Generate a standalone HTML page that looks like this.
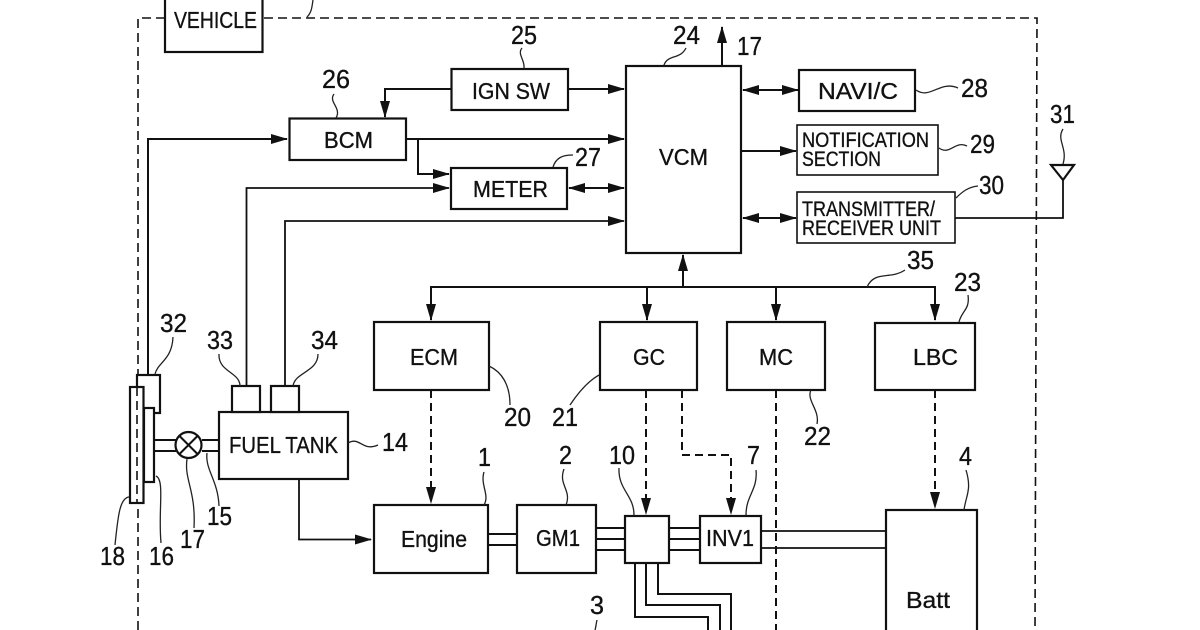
<!DOCTYPE html>
<html><head><meta charset="utf-8"><style>
html,body{margin:0;padding:0;background:#fff;width:1200px;height:630px;overflow:hidden}
svg{display:block}
text{font-family:"Liberation Sans",sans-serif;fill:#111;stroke:#111;stroke-width:.35}
.n{font-size:26px}
.b{font-size:23.500px}
.s{font-size:21px}
.l{fill:none;stroke:#111;stroke-width:2}
.t{fill:none;stroke:#222;stroke-width:1.3}
.d{fill:none;stroke:#111;stroke-width:1.6;stroke-dasharray:9 5}
.a{fill:none;stroke:#111;stroke-width:2;stroke-dasharray:8 5}
.w{fill:#fff;stroke:#111;stroke-width:2.2}
</style></head><body>
<svg width="1200" height="630" viewBox="0 0 1200 630" xmlns="http://www.w3.org/2000/svg">
<defs>
<marker id="h" markerWidth="17" markerHeight="10" refX="16" refY="5" orient="auto-start-reverse" markerUnits="userSpaceOnUse"><path d="M0 0L17 5L0 10Z" fill="#111"/></marker>
</defs>
<!-- outer dashed boundary -->
<path class="d" d="M165 18H138V630"/>
<path class="d" d="M264 18H1037L1035 630"/>
<path class="t" d="M307 17C312 12 312 6 313 0"/>
<!-- connectors -->
<g class="l">
<path d="M451 89H385V117" marker-end="url(#h)"/>
<path d="M568 89H624" marker-end="url(#h)"/>
<path d="M148 375V139H287" marker-end="url(#h)"/>
<path d="M406 139H624" marker-end="url(#h)"/>
<path d="M418 139V174H449" marker-end="url(#h)"/>
<path d="M246.500 386V188H449" stroke-width="1.800" marker-end="url(#h)"/>
<path d="M285 386V221H624" stroke-width="1.800" marker-end="url(#h)"/>
<path d="M569 188H624" marker-start="url(#h)" marker-end="url(#h)"/>
<path d="M722 66V27" marker-end="url(#h)"/>
<path d="M743 90H798" marker-start="url(#h)" marker-end="url(#h)"/>
<path d="M741 151H796" marker-end="url(#h)"/>
<path d="M743 218H796" marker-start="url(#h)" marker-end="url(#h)"/>
<path d="M955 218H1063V180" stroke-width="1.800"/>
<path d="M683 287V255" marker-end="url(#h)"/>
<path d="M431 320V287H935V320" marker-start="url(#h)" marker-end="url(#h)"/>
<path d="M647 287V320" marker-end="url(#h)"/>
<path d="M776 287V320" marker-end="url(#h)"/>
<path d="M299 479V539.500H371" stroke-width="1.800" marker-end="url(#h)"/>
<path d="M635 563V617H708V630"/>
<path d="M646 563V605H720V630"/>
<path d="M658 563V594H731V630"/>
<path d="M488 534H517M488 545H517"/>
<path d="M596 528H625M596 539H625M596 550H625"/>
<path d="M669 528H700M669 539H700M669 550H700"/>
<path d="M761 531H886M761 548H886" stroke-width="1.800"/>
<path d="M154 440H176M154 451H176M202 440H219M202 451H219"/>
</g>
<!-- dashed control lines -->
<path class="a" d="M431 390V490"/><path d="M426 487L431 504L436 487Z" fill="#111"/>
<path class="a" d="M646 390V500"/><path d="M641 498L646 515L651 498Z" fill="#111"/>
<path class="a" d="M682 390V455H731V500"/><path d="M726 498L731 515L736 498Z" fill="#111"/>
<path class="a" d="M935 390V495"/><path d="M930 492L935 509L940 492Z" fill="#111"/>
<path class="a" d="M776 390V630"/>
<!-- boxes -->
<g class="w">
<rect x="165" y="-10" width="97.500" height="62"/>
<rect x="451.500" y="69" width="116.500" height="41"/>
<rect x="289.500" y="118.500" width="116.500" height="41.500"/>
<rect x="451" y="168" width="116" height="41"/>
<rect x="626" y="66" width="115" height="187"/>
<rect x="799" y="70" width="116" height="41"/>
<rect x="797" y="125" width="141" height="50" stroke-width="1.600"/>
<rect x="797" y="192" width="158" height="51" stroke-width="1.600"/>
<rect x="374" y="322" width="115" height="68"/>
<rect x="600" y="322" width="97" height="68"/>
<rect x="727" y="322" width="98" height="68"/>
<rect x="875" y="323" width="100" height="67"/>
<rect x="219" y="412" width="129" height="67"/>
<rect x="232" y="386" width="28" height="26"/>
<rect x="271" y="386" width="28" height="26"/>
<rect x="137" y="375" width="23" height="38"/>
<rect x="144" y="408" width="10" height="74"/>
<rect x="130" y="387" width="13.500" height="116"/>
<rect x="374" y="505" width="114" height="68"/>
<rect x="517" y="505" width="79" height="68"/>
<rect x="625" y="516" width="44" height="47"/>
<rect x="700" y="516" width="61" height="47"/>
<rect x="886" y="510" width="91" height="130"/>
</g>
<path d="M137 387V503" class="d" stroke-width="1.400"/>
<!-- valve -->
<circle cx="188.500" cy="445" r="13" class="w"/>
<path class="l" d="M179.500 436L197.500 454M197.500 436L179.500 454"/>
<!-- antenna -->
<path class="w" stroke-width="1.600" d="M1051 165H1074L1063 180Z"/>
<!-- leaders -->
<g class="t">
<path d="M522 48C517 54 525 60 524 68"/>
<path d="M334 94C328 102 342 108 336 118"/>
<path d="M553 167C556 158 562 155 573 155"/>
<path d="M664 65C668 54 680 60 686 48"/>
<path d="M916 90C930 100 940 80 958 88"/>
<path d="M939 148C950 156 955 140 967 146"/>
<path d="M956 198C962 192 968 187 978 186"/>
<path d="M1063 129C1056 140 1068 148 1063 164"/>
<path d="M867 287C875 270 890 280 905 270"/>
<path d="M959 322C962 310 970 310 968 295"/>
<path d="M155 374C158 362 172 360 173 337"/>
<path d="M240 386C240 372 218 372 219 354"/>
<path d="M293 386C295 372 318 372 318 354"/>
<path d="M348 443C360 436 362 452 378 445"/>
<path d="M207 453C205 470 218 480 219 506"/>
<path d="M187 459C184 480 196 490 194 528"/>
<path d="M156 476C165 480 158 510 161 543"/>
<path d="M129 497C120 498 118 515 115 545"/>
<path d="M489 366C502 372 510 385 510 405"/>
<path d="M599 375C590 380 580 390 570 405"/>
<path d="M811 390C806 400 820 410 817 424"/>
<path d="M484 505C490 495 480 485 484 472"/>
<path d="M566 505C572 490 558 485 564 469"/>
<path d="M634 515C634 495 618 490 619 468"/>
<path d="M746 515C746 495 758 490 756 470"/>
<path d="M964 510C966 495 972 490 966 470"/>
<path d="M597 620C596 624 596 627 595 630"/>
</g>
<!-- box labels -->
<g class="b">
<text x="174" y="28" textLength="83" lengthAdjust="spacingAndGlyphs">VEHICLE</text>
<text x="472" y="99" textLength="78" lengthAdjust="spacingAndGlyphs">IGN SW</text>
<text x="324" y="148" textLength="49" lengthAdjust="spacingAndGlyphs">BCM</text>
<text x="473" y="197" textLength="75" lengthAdjust="spacingAndGlyphs">METER</text>
<text x="659" y="165" textLength="49" lengthAdjust="spacingAndGlyphs">VCM</text>
<text x="818" y="99" textLength="80" lengthAdjust="spacingAndGlyphs">NAVI/C</text>
<text x="229" y="453" textLength="109" lengthAdjust="spacingAndGlyphs">FUEL TANK</text>
<text x="410" y="365" textLength="48" lengthAdjust="spacingAndGlyphs">ECM</text>
<text x="633" y="365" textLength="32" lengthAdjust="spacingAndGlyphs">GC</text>
<text x="759" y="365" textLength="34" lengthAdjust="spacingAndGlyphs">MC</text>
<text x="913" y="365" textLength="45" lengthAdjust="spacingAndGlyphs">LBC</text>
<text x="401" y="547" textLength="66" lengthAdjust="spacingAndGlyphs">Engine</text>
<text x="536" y="546" textLength="44" lengthAdjust="spacingAndGlyphs">GM1</text>
<text x="706" y="546" textLength="48" lengthAdjust="spacingAndGlyphs">INV1</text>
<text x="906" y="608" textLength="44" lengthAdjust="spacingAndGlyphs">Batt</text>
</g>
<g class="s">
<text x="802" y="147" textLength="127" lengthAdjust="spacingAndGlyphs">NOTIFICATION</text>
<text x="802" y="166" textLength="79" lengthAdjust="spacingAndGlyphs">SECTION</text>
<text x="802" y="216" textLength="133" lengthAdjust="spacingAndGlyphs">TRANSMITTER/</text>
<text x="802" y="235" textLength="139" lengthAdjust="spacingAndGlyphs">RECEIVER UNIT</text>
</g>
<!-- numbers -->
<g class="n">
<text x="511" y="44" textLength="26" lengthAdjust="spacingAndGlyphs">25</text>
<text x="322" y="88" textLength="28" lengthAdjust="spacingAndGlyphs">26</text>
<text x="575" y="166" textLength="26" lengthAdjust="spacingAndGlyphs">27</text>
<text x="673" y="44" textLength="27" lengthAdjust="spacingAndGlyphs">24</text>
<text x="737" y="55" textLength="25" lengthAdjust="spacingAndGlyphs">17</text>
<text x="961" y="97" textLength="27" lengthAdjust="spacingAndGlyphs">28</text>
<text x="970" y="153" textLength="25" lengthAdjust="spacingAndGlyphs">29</text>
<text x="979" y="194" textLength="25" lengthAdjust="spacingAndGlyphs">30</text>
<text x="1050" y="123" textLength="25" lengthAdjust="spacingAndGlyphs">31</text>
<text x="907" y="269" textLength="27" lengthAdjust="spacingAndGlyphs">35</text>
<text x="954" y="291" textLength="27" lengthAdjust="spacingAndGlyphs">23</text>
<text x="160" y="332" textLength="27" lengthAdjust="spacingAndGlyphs">32</text>
<text x="207" y="349" textLength="26" lengthAdjust="spacingAndGlyphs">33</text>
<text x="311" y="349" textLength="27" lengthAdjust="spacingAndGlyphs">34</text>
<text x="382" y="451" textLength="26" lengthAdjust="spacingAndGlyphs">14</text>
<text x="207" y="525" textLength="25" lengthAdjust="spacingAndGlyphs">15</text>
<text x="180" y="548" textLength="25" lengthAdjust="spacingAndGlyphs">17</text>
<text x="149" y="565" textLength="25" lengthAdjust="spacingAndGlyphs">16</text>
<text x="100" y="565" textLength="25" lengthAdjust="spacingAndGlyphs">18</text>
<text x="504" y="426" textLength="27" lengthAdjust="spacingAndGlyphs">20</text>
<text x="552" y="426" textLength="26" lengthAdjust="spacingAndGlyphs">21</text>
<text x="804" y="445" textLength="27" lengthAdjust="spacingAndGlyphs">22</text>
<text x="478" y="466" textLength="13" lengthAdjust="spacingAndGlyphs">1</text>
<text x="559" y="464" textLength="13" lengthAdjust="spacingAndGlyphs">2</text>
<text x="609" y="464" textLength="26" lengthAdjust="spacingAndGlyphs">10</text>
<text x="747" y="464" textLength="13" lengthAdjust="spacingAndGlyphs">7</text>
<text x="959" y="465" textLength="13" lengthAdjust="spacingAndGlyphs">4</text>
<text x="590" y="614" textLength="14" lengthAdjust="spacingAndGlyphs">3</text>
</g>
</svg>
</body></html>
